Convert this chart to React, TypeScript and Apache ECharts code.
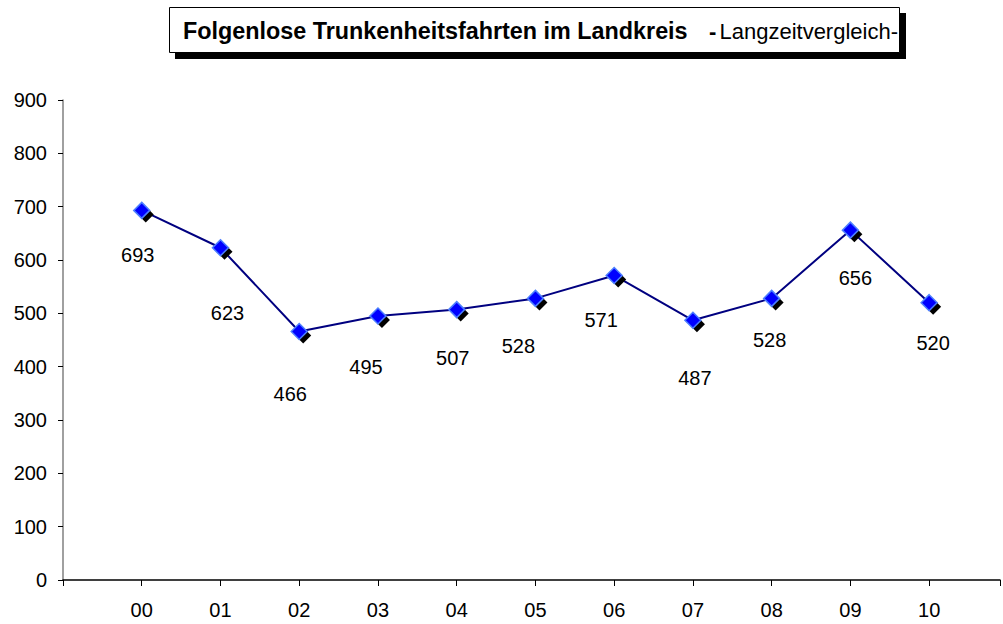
import React, { useEffect, useRef } from 'react';
import * as echarts from 'echarts';

const categories = ['00', '01', '02', '03', '04', '05', '06', '07', '08', '09', '10'];
const values = [693, 623, 466, 495, 507, 528, 571, 487, 528, 656, 520];
// label offsets from marker centre (dx, dy), as placed in the original
const labelOffsets = [
  [-4, 45], [7, 65], [-9, 63], [-12, 51], [-4, 48], [-17, 48],
  [-13, 45], [2, 58], [-2, 42], [5, 48], [4, 40],
];
const titleBold = 'Folgenlose Trunkenheitsfahrten im Landkreis';
const titleDash = '-';
const titleRegular = 'Langzeitvergleich-';

export default function App() {
  const ref = useRef<HTMLDivElement>(null);
  useEffect(() => {
    document.body.style.margin = '0';
    const chart = echarts.init(ref.current!, null, { renderer: 'svg' });
    const font = "'Liberation Sans', Arial, sans-serif";
    const points = values.map((v, i) => [i, v]);
    chart.setOption({
      animation: false,
      backgroundColor: '#ffffff',
      grid: { left: 63, top: 100, right: 0, bottom: 44, containLabel: false },
      xAxis: {
        type: 'value',
        min: -1,
        max: 10.9,
        interval: 1,
        axisLine: { show: true, onZero: false, lineStyle: { color: '#000000', width: 1.5 } },
        axisTick: { show: true, inside: false, length: 6, lineStyle: { color: '#000000', width: 1 } },
        axisLabel: {
          show: true,
          margin: 20,
          fontSize: 20,
          color: '#000000',
          fontFamily: font,
          showMinLabel: true,
          showMaxLabel: true,
          formatter: (v: number) => {
            const i = Math.round(v);
            return Math.abs(v - i) < 1e-6 && i >= 0 && i < categories.length ? categories[i] : '';
          },
        },
        splitLine: { show: false },
      },
      yAxis: {
        type: 'value',
        min: 0,
        max: 900,
        interval: 100,
        axisLine: { show: true, onZero: false, lineStyle: { color: '#808080', width: 1.5 } },
        axisTick: { show: true, inside: false, length: 5, lineStyle: { color: '#000000', width: 1 } },
        axisLabel: { show: true, margin: 16, fontSize: 20, color: '#000000', fontFamily: font },
        splitLine: { show: false },
      },
      series: [
        {
          type: 'line',
          data: points,
          z: 1,
          showSymbol: false,
          symbol: 'none',
          lineStyle: { color: '#000080', width: 2 },
          silent: true,
        },
        {
          type: 'scatter',
          data: points,
          z: 2,
          symbol: 'diamond',
          symbolSize: 16,
          symbolOffset: [4, 4],
          itemStyle: { color: '#000000', opacity: 1 },
          silent: true,
        },
        {
          type: 'scatter',
          data: points.map((p, i) => ({
            value: p,
            label: { offset: labelOffsets[i] },
          })),
          z: 3,
          symbol: 'diamond',
          symbolSize: 16,
          itemStyle: { color: '#0000ff', borderColor: '#4d7fff', borderWidth: 1.5, opacity: 1 },
          label: {
            show: true,
            position: 'inside',
            align: 'center',
            verticalAlign: 'middle',
            fontSize: 20,
            color: '#000000',
            fontFamily: font,
            formatter: (p: any) => String(p.value[1]),
          },
          silent: true,
        },
      ],
      graphic: [
        {
          type: 'rect',
          shape: { x: 175, y: 13, width: 731, height: 46 },
          style: { fill: '#000000' },
          z: 10,
        },
        {
          type: 'rect',
          shape: { x: 169.5, y: 7.5, width: 730, height: 45 },
          style: { fill: '#ffffff', stroke: '#000000', lineWidth: 1 },
          z: 11,
        },
        {
          type: 'text',
          x: 183,
          y: 31,
          z: 12,
          style: {
            text: titleBold,
            font: `bold 23.35px ${font}`,
            fill: '#000000',
            textAlign: 'left',
            textVerticalAlign: 'middle',
          },
        },
        {
          type: 'text',
          x: 709,
          y: 31,
          z: 12,
          style: {
            text: titleDash,
            font: `bold 22px ${font}`,
            fill: '#000000',
            textAlign: 'left',
            textVerticalAlign: 'middle',
          },
        },
        {
          type: 'text',
          x: 898,
          y: 31,
          z: 12,
          style: {
            text: titleRegular,
            font: `22px ${font}`,
            fill: '#000000',
            textAlign: 'right',
            textVerticalAlign: 'middle',
          },
        },
      ],
    });
    return () => chart.dispose();
  }, []);
  return <div ref={ref} style={{ width: 1003, height: 624 }} />;
}
